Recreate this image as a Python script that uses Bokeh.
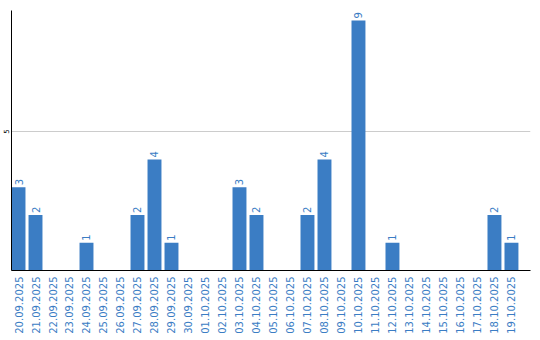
import math
from bokeh.plotting import figure
from bokeh.models import Range1d, FixedTicker, ColumnDataSource
from bokeh.core.properties import value
from bokeh.embed import file_html
from bokeh.resources import INLINE

dates = ["20.09.2025", "21.09.2025", "22.09.2025", "23.09.2025", "24.09.2025",
         "25.09.2025", "26.09.2025", "27.09.2025", "28.09.2025", "29.09.2025",
         "30.09.2025", "01.10.2025", "02.10.2025", "03.10.2025", "04.10.2025",
         "05.10.2025", "06.10.2025", "07.10.2025", "08.10.2025", "09.10.2025",
         "10.10.2025", "11.10.2025", "12.10.2025", "13.10.2025", "14.10.2025",
         "15.10.2025", "16.10.2025", "17.10.2025", "18.10.2025", "19.10.2025"]
counts = [3, 2, 0, 0, 1, 0, 0, 2, 4, 1, 0, 0, 0, 3, 2, 0, 0, 2, 4, 0,
          9, 0, 1, 0, 0, 0, 0, 0, 2, 1]
y_ticks = [5]

BLUE = "#3b7dc4"
xs = list(range(len(dates)))

src = ColumnDataSource(dict(x=xs, count=counts))
lab_x = [x for x, c in zip(xs, counts) if c > 0]
lab_y = [c for c in counts if c > 0]
lab_t = [str(c) for c in lab_y]
lab_src = ColumnDataSource(dict(x=lab_x, y=lab_y, t=lab_t))

p = figure(width=540, height=340, output_backend="svg", toolbar_location=None,
           x_range=Range1d(-0.412, 30.12), y_range=Range1d(0, 9.36),
           min_border_left=11, min_border_right=10, min_border_top=10,
           min_border_bottom=70)
p.outline_line_color = None
p.background_fill_color = "white"
p.border_fill_color = "white"

p.vbar(x="x", top="count", bottom=0, width=0.82, source=src,
       fill_color=BLUE, line_color=None)
p.text(x="x", y="y", text="t", source=lab_src, angle=math.pi / 2,
       text_align="left", text_baseline="middle", y_offset=-2,
       text_font=value("DejaVu Sans"), text_font_size="10px", text_color=BLUE)

p.xgrid.visible = False
p.ygrid.ticker = FixedTicker(ticks=y_ticks)
p.ygrid.grid_line_color = "#cccccc"
p.ygrid.grid_line_width = 1

xa = p.xaxis[0]
xa.ticker = FixedTicker(ticks=xs)
xa.major_label_overrides = {i: d for i, d in zip(xs, dates)}
xa.major_label_orientation = math.pi / 2
xa.major_label_text_font = "DejaVu Sans"
xa.major_label_text_font_size = "10px"
xa.major_label_text_color = BLUE
xa.major_label_standoff = 6
xa.major_tick_out = 0
xa.major_tick_in = 0
xa.minor_tick_out = 0
xa.minor_tick_in = 0
xa.axis_line_color = "black"

ya = p.yaxis[0]
ya.ticker = FixedTicker(ticks=y_ticks)
ya.major_label_orientation = "vertical"
ya.major_label_text_font = "DejaVu Sans"
ya.major_label_text_font_size = "7px"
ya.major_label_text_color = "black"
ya.major_label_standoff = 2
ya.major_tick_out = 0
ya.major_tick_in = 0
ya.minor_tick_out = 0
ya.minor_tick_in = 0
ya.axis_line_color = "black"

open("out.html", "w").write(file_html(p, INLINE))
